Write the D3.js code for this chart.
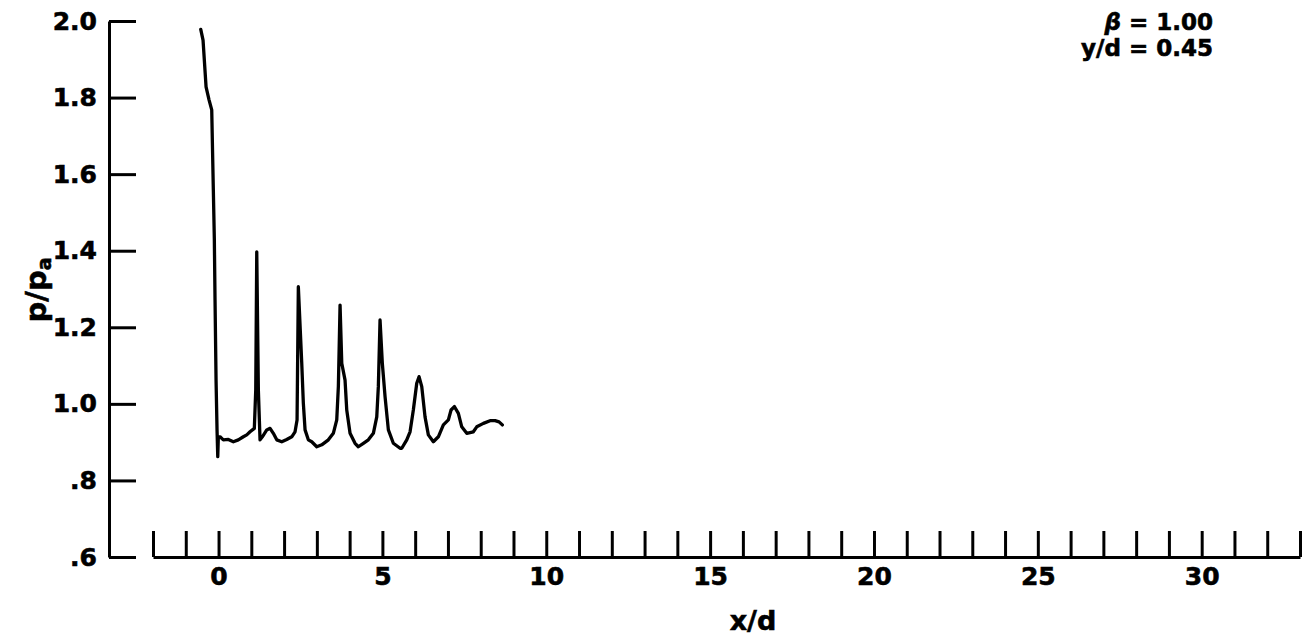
<!DOCTYPE html>
<html><head><meta charset="utf-8">
<script src="https://cdn.jsdelivr.net/npm/d3@7"></script>
<style>
body{margin:0;background:#fff}
svg{display:block}
text{font-family:"DejaVu Sans",sans-serif;font-weight:bold;fill:#000;stroke:#000;stroke-width:0.6px}
</style>
</head><body>
<svg id="chart" width="1303" height="641"></svg>
<script>
// x/d positions of the trace
const xOverD = [-0.543,-0.473,-0.381,-0.290,-0.208,-0.159,-0.128,-0.107,-0.076,-0.046,-0.024,-0.006,
  0.046,0.146,0.299,0.452,0.604,0.757,0.861,0.961,1.092,1.135,1.166,1.215,1.266,1.337,1.471,1.572,
  1.672,1.776,1.929,2.081,2.234,2.334,2.396,2.435,2.539,2.588,2.640,2.740,2.844,2.997,3.149,3.351,
  3.503,3.607,3.656,3.708,3.760,3.860,3.912,4.013,4.165,4.266,4.419,4.571,4.724,4.828,4.876,4.928,
  4.998,5.081,5.182,5.334,5.539,5.591,5.743,5.844,5.944,6.048,6.118,6.201,6.301,6.402,6.555,6.707,
  6.860,7.013,7.095,7.196,7.318,7.421,7.574,7.775,7.879,8.081,8.285,8.438,8.560,8.660];
// p/pa values of the trace
const pOverPa = [1.978,1.950,1.828,1.794,1.768,1.559,1.428,1.271,1.062,0.932,0.862,0.914,
  0.914,0.906,0.907,0.901,0.906,0.914,0.919,0.927,0.936,1.036,1.397,1.036,0.906,0.914,0.932,0.936,
  0.923,0.906,0.901,0.907,0.914,0.927,0.958,1.306,1.106,1.001,0.932,0.906,0.901,0.888,0.893,0.906,
  0.923,0.958,1.045,1.258,1.106,1.062,0.984,0.923,0.897,0.888,0.897,0.906,0.923,0.966,1.045,1.219,
  1.106,1.019,0.932,0.897,0.884,0.884,0.906,0.927,0.984,1.054,1.071,1.045,0.966,0.919,0.901,0.914,
  0.945,0.958,0.984,0.993,0.975,0.940,0.923,0.927,0.940,0.949,0.956,0.956,0.953,0.945];

const yTickValues = [0.6,0.8,1.0,1.2,1.4,1.6,1.8,2.0];
const yTickLabels = [".6",".8","1.0","1.2","1.4","1.6","1.8","2.0"];
const xTickValues = [-2,-1,0,1,2,3,4,5,6,7,8,9,10,11,12,13,14,15,16,17,18,19,20,21,22,23,24,25,26,27,28,29,30,31,32,33];
const xTickLabelValues = [0,5,10,15,20,25,30];
const xTitle = "x/d";
const annotations = ["β = 1.00","y/d = 0.45"];

const svg = d3.select("#chart");
const x = d3.scaleLinear().domain([-2,33]).range([153,1300]);
const y = d3.scaleLinear().domain([0.6,2.0]).range([557,21]);

// y axis
const yAxis = svg.append("g").attr("transform","translate(109,0)")
  .call(d3.axisLeft(y).tickValues(yTickValues).tickSizeInner(-27).tickSizeOuter(0).tickPadding(12)
    .tickFormat((d,i)=>yTickLabels[i]));
yAxis.selectAll("path,line").attr("stroke","#000").attr("stroke-width",3);
yAxis.selectAll("text").style("font-size","25px").attr("fill","#000");

// x axis
const xAxis = svg.append("g").attr("transform","translate(0,557)")
  .call(d3.axisBottom(x).tickValues(xTickValues).tickSizeInner(-26).tickSizeOuter(0).tickPadding(10)
    .tickFormat(d=>xTickLabelValues.includes(d)?String(d):""));
xAxis.selectAll("path,line").attr("stroke","#000").attr("stroke-width",3);
xAxis.selectAll("text").style("font-size","25px").attr("fill","#000");

// titles
svg.append("text").attr("x",753).attr("y",630).attr("text-anchor","middle")
  .style("font-size","27px").text(xTitle);
const yl = svg.append("text").attr("transform","translate(46,290) rotate(-90)")
  .attr("text-anchor","middle").style("font-size","29px");
yl.append("tspan").text("p/p");
yl.append("tspan").attr("dy","0.25em").style("font-size","19px").text("a");

// annotation
const ann = svg.append("g").style("font-size","23px");
ann.append("text").attr("x",1213).attr("y",30).attr("text-anchor","end")
  .html('<tspan font-style="italic">β</tspan> = 1.00');
ann.append("text").attr("x",1213).attr("y",56).attr("text-anchor","end").text(annotations[1]);

// trace
const data = xOverD.map((v,i)=>[v,pOverPa[i]]);
svg.append("path").datum(data)
  .attr("fill","none").attr("stroke","#000").attr("stroke-width",3.3)
  .attr("stroke-linejoin","round").attr("stroke-linecap","round")
  .attr("d",d3.line().x(d=>x(d[0])).y(d=>y(d[1])));
</script>
</body></html>
